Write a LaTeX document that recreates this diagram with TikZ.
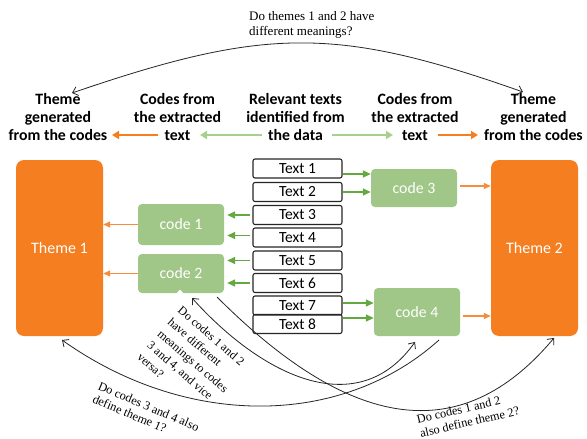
\documentclass[tikz,border=0pt]{standalone}
\usepackage{fontspec}
\setmainfont{Liberation Serif}
\newfontfamily\calfnt{Carlito}
\usetikzlibrary{arrows.meta}
\definecolor{orng}{RGB}{244,126,32}
\definecolor{orngl}{RGB}{246,140,60}
\definecolor{gbox}{RGB}{160,198,136}
\definecolor{garr}{RGB}{100,168,64}
\definecolor{gl}{RGB}{168,208,141}
\tikzset{
  themebox/.style={fill=orng, rounded corners=8pt, minimum width=87pt, minimum height=176pt, text=white, font=\calfnt\fontsize{16}{18}\selectfont, inner sep=0pt},
  codebox/.style={fill=gbox, rounded corners=4pt, minimum width=86pt, text=white, font=\calfnt\fontsize{15.8}{18}\selectfont, inner sep=0pt},
  textbox/.style={draw=black!85, line width=1.1pt, rounded corners=2pt, minimum width=89pt, minimum height=19pt, font=\calfnt\fontsize{15.5}{18}\selectfont, inner sep=0pt},
  header/.style={align=center, font=\calfnt\bfseries\fontsize{15.8}{18}\selectfont, inner sep=0pt},
  garrow/.style={draw=garr, line width=1.5pt, -{Triangle[length=8pt,width=7pt]}},
  oarrow/.style={draw=orngl, line width=1.3pt, -{Triangle[length=7pt,width=6pt]}},
  hoarrow/.style={draw=orng, line width=2.4pt, -{Triangle[length=7pt,width=8pt]}},
  hgarrow/.style={draw=gl, line width=2.4pt, -{Triangle[length=7pt,width=8pt]}},
  qarc/.style={draw=black!85, line width=0.8pt},
  barb/.tip={Straight Barb[length=5pt,width=9pt]},
  qlabel/.style={align=left, font=\fontsize{12.3}{14}\selectfont, inner sep=0pt}
}
\begin{document}
\begin{tikzpicture}[x=1pt,y=-1pt]
\useasboundingbox (0,0) rectangle (587,439);
\fill[white] (0,0) rectangle (587,439);

% headers
\node[header] (h1) at (58,117) {Theme\\generated\\from the codes};
\node[header] (h2) at (177.5,117) {Codes from\\the extracted\\text};
\node[header] (h3) at (295.5,117) {Relevant texts\\identified from\\the data};
\node[header] (h4) at (415,117) {Codes from\\the extracted\\text};
\node[header] (h5) at (533.5,117) {Theme\\generated\\from the codes};

\coordinate (ha1s) at (158,135); \coordinate (ha1e) at (112,135);
\coordinate (ha2s) at (262,135); \coordinate (ha2e) at (200,135);
\coordinate (ha3s) at (332,135); \coordinate (ha3e) at (393,135);
\coordinate (ha4s) at (438,135); \coordinate (ha4e) at (478,135);
\draw[hoarrow] (ha1s) -- (ha1e);
\draw[hgarrow] (ha2s) -- (ha2e);
\draw[hgarrow] (ha3s) -- (ha3e);
\draw[hoarrow] (ha4s) -- (ha4e);

% top arc
\node[align=left, inner sep=0pt, font=\fontsize{13}{14.5}\selectfont, anchor=west] (tq) at (249,25) {Do themes 1 and 2 have\\different meanings?};
\coordinate (arcL) at (72,93);
\coordinate (arcR) at (523,92);
\draw[qarc, barb-barb] (arcL) .. controls (265,27) and (336,26) .. (arcR);

% themes
\node[themebox] (t1) at (59.5,248) {Theme 1};
\node[themebox] (t2) at (534.5,248) {Theme 2};

% texts
\node[textbox] (x1) at (297.5,168.5) {Text 1};
\node[textbox] (x2) at (297.5,192) {Text 2};
\node[textbox] (x3) at (297.5,215) {Text 3};
\node[textbox] (x4) at (297.5,237.5) {Text 4};
\node[textbox] (x5) at (297.5,260.5) {Text 5};
\node[textbox] (x6) at (297.5,283) {Text 6};
\node[textbox] (x7) at (297.5,305.5) {Text 7};
\node[textbox] (x8) at (297.5,324) {Text 8};

% codes
\node[codebox, minimum height=38pt] (c3) at (414,188) {code 3};
\node[codebox, minimum height=41pt] (c1) at (181,224.5) {code 1};
\node[codebox, minimum height=39pt] (c2) at (181,273.5) {code 2};
\node[codebox, minimum height=48pt] (c4) at (417,312) {code 4};
\fill[white] (176,294) -- (180,289.5) -- (184,294) -- cycle;

% text -> code arrows
\draw[garrow] ([yshift=-5.5]x1.east) -- ([yshift=-5.5]x1.east -| c3.west);
\draw[garrow] (x2.east) -- (x2.east -| c3.west);
\draw[garrow, shorten <=2pt, shorten >=3pt] (x3.west) -- (x3.west -| c1.east);
\draw[garrow, shorten <=2pt, shorten >=3pt] ([yshift=2]x4.west) -- ([yshift=2]x4.west -| c1.east);
\draw[garrow, shorten <=2pt, shorten >=3pt] (x5.west) -- (x5.west -| c2.east);
\draw[garrow, shorten <=2pt, shorten >=3pt] (x6.west) -- (x6.west -| c2.east);
\draw[garrow] ([yshift=2.5]x7.east) -- ([yshift=2.5]x7.east -| c4.west);
\draw[garrow] ([yshift=6]x8.east) -- ([yshift=6]x8.east -| c4.west);

% code -> theme arrows
\draw[oarrow] (c1.west) -- (c1.west -| t1.east);
\draw[oarrow] (c2.west) -- (c2.west -| t1.east);
\draw[oarrow, shorten <=3pt] ([yshift=2]c3.east) -- ([yshift=2]c3.east -| t2.west);
\draw[oarrow, shorten <=3pt] ([yshift=-4]c4.east) -- ([yshift=-4]c4.east -| t2.west);

% bottom question arcs
\coordinate (c4a) at (439,340);
\coordinate (t1a) at (62,340);
\coordinate (c2a) at (192,298);
\coordinate (c4b) at (415,342);
\coordinate (c2b) at (217,297);
\coordinate (t2a) at (554,338);
\draw[qarc, -barb] (c4a) .. controls (341,428) and (186,428) .. (t1a);
\draw[qarc, barb-barb] (c2a) .. controls (265,379) and (359,421) .. (c4b);
\draw[qarc, -barb] (c2b) .. controls (349,429) and (460,450) .. (t2a);

\node[qlabel, rotate=-41, font=\fontsize{12}{15.5}\selectfont] (q1) at (193,361) {Do codes 1 and 2\\have different\\meanings to codes\\3 and 4, and vice\\versa?};
\node[qlabel, rotate=-23] (q2) at (146,413) {Do codes 3 and 4 also\\define theme 1?};
\node[qlabel, rotate=13] (q3) at (468,415) {Do codes 1 and 2\\also define theme 2?};
\end{tikzpicture}
\end{document}
